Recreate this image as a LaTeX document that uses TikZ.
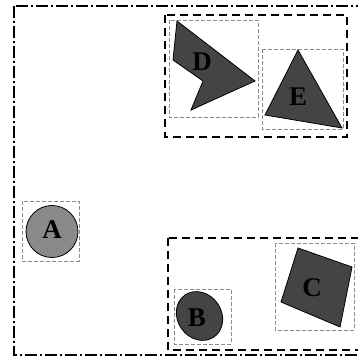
\documentclass[tikz,border=0pt]{standalone}
\usepackage{fontspec}
\setmainfont{Liberation Serif}
\usepackage{tikz}
\usetikzlibrary{positioning,calc}
\definecolor{objdark}{HTML}{444444}
\definecolor{objlight}{HTML}{8A8A8A}
\definecolor{boxgray}{HTML}{8C8C8C}

\begin{document}
\begin{tikzpicture}[
  x=1pt,y=-1pt,
  every node/.style={font=\fontsize{27}{27}\selectfont\bfseries,inner sep=0pt},
  scene/.style={draw=black,line width=1.3pt,dash pattern=on 12pt off 3pt on 2pt off 3pt},
  group/.style={draw=black,line width=1.3pt,dash pattern=on 8pt off 5pt},
  bbox/.style={draw=boxgray,line width=1pt,dash pattern=on 4pt off 2pt},
  object/.style={fill=objdark,draw=black,line width=0.8pt}
]
  \useasboundingbox (0,0) rectangle (358,356);

  % Szene
  \draw[scene] (14,6) rectangle (372,355);

  % Gruppen
  \draw[group] (165,15) rectangle (347,137);
  \draw[group] (168,238) rectangle (366,350);

  % Objekt A
  \draw[bbox] (22,201) rectangle (79,261);
  \filldraw[object,fill=objlight] (52,231.5) circle (26);
  \node (labA) at (52,230) {A};

  % Objekt B
  \draw[bbox] (174,289) rectangle (231,344);
  \filldraw[object,rotate around={35:(199.5,316)}] (199.5,316) ellipse (22 and 25.5);
  \node (labB) at (197,318) {B};

  % Objekt C
  \draw[bbox] (275,243) rectangle (354,330);
  \filldraw[object] (298,248) -- (352,267) -- (340,327) -- (281,302) -- cycle;
  \node (labC) at (312,288) {C};

  % Objekt D
  \draw[bbox] (169,20) rectangle (258,117);
  \filldraw[object] (177,21) -- (255,81) -- (191,110) -- (203,81) -- (173,60) -- cycle;
  \node (labD) at (202,62) {D};

  % Objekt E
  \draw[bbox] (262,49) rectangle (343,129);
  \filldraw[object] (298,50) -- (342,128) -- (265,115) -- cycle;
  \node (labE) at (298,97) {E};
\end{tikzpicture}
\end{document}
